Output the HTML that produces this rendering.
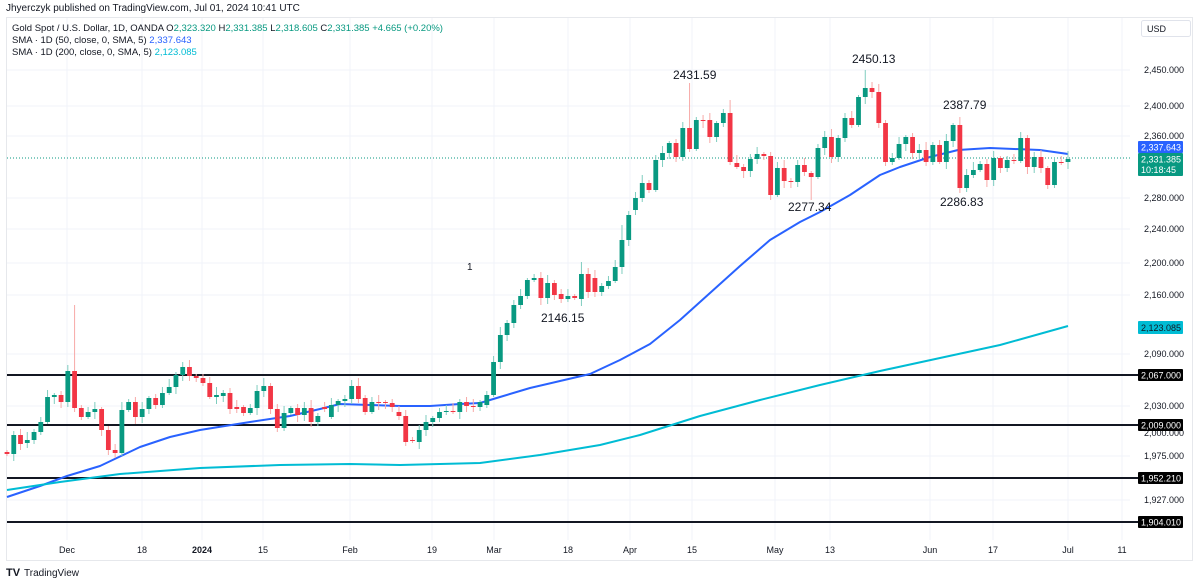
<!DOCTYPE html>
<html><head><meta charset="utf-8">
<style>
html,body{margin:0;padding:0;background:#fff;width:1200px;height:583px;overflow:hidden;font-family:"Liberation Sans",sans-serif;}
svg{display:block}
</style></head><body>
<svg id="c" width="1200" height="583" xmlns="http://www.w3.org/2000/svg" font-family="Liberation Sans, sans-serif">
<rect x="0" y="0" width="1200" height="583" fill="#fff"/>
<text x="6" y="11" font-size="10" fill="#131722">Jhyerczyk published on TradingView.com, Jul 01, 2024 10:41 UTC</text>
<rect x="6.5" y="17.5" width="1186" height="543" fill="none" stroke="#e6e8ec"/>
<g id="grid"></g>
<g id="hl"></g>
<line x1="7" y1="158" x2="1130" y2="158" stroke="#089981" stroke-dasharray="1,2" stroke-width="1"/>
<g id="ma"></g>
<g id="candles"></g>
<g font-size="12" fill="#131722">
<text x="673" y="79">2431.59</text>
<text x="852" y="63">2450.13</text>
<text x="943" y="109">2387.79</text>
<text x="788" y="211">2277.34</text>
<text x="940" y="206">2286.83</text>
<text x="541" y="322">2146.15</text>
<text x="467" y="270" font-size="10">1</text>
</g>
<g font-size="9.5" fill="#131722">
<text x="12" y="31">Gold Spot / U.S. Dollar, 1D, OANDA  O<tspan fill="#089981">2,323.320</tspan>  H<tspan fill="#089981">2,331.385</tspan>  L<tspan fill="#089981">2,318.605</tspan>  C<tspan fill="#089981">2,331.385</tspan>  <tspan fill="#089981">+4.665 (+0.20%)</tspan></text>
<text x="12" y="43">SMA · 1D (50, close, 0, SMA, 5)  <tspan fill="#2962ff">2,337.643</tspan></text>
<text x="12" y="55">SMA · 1D (200, close, 0, SMA, 5)  <tspan fill="#00bcd4">2,123.085</tspan></text>
</g>
<rect x="1141.5" y="20.5" width="49" height="16" rx="2" fill="#fff" stroke="#e0e3eb"/>
<text x="1147" y="32" font-size="9" fill="#131722">USD</text>
<g id="axis" font-size="9" fill="#131722"></g>
<g font-size="9" fill="#131722" text-anchor="middle">
<text x="67" y="553">Dec</text><text x="142" y="553">18</text><text x="202" y="553" font-weight="bold">2024</text><text x="263" y="553">15</text>
<text x="350" y="553">Feb</text><text x="432" y="553">19</text><text x="494" y="553">Mar</text><text x="568" y="553">18</text>
<text x="630" y="553">Apr</text><text x="692" y="553">15</text><text x="775" y="553">May</text><text x="830" y="553">13</text>
<text x="930" y="553">Jun</text><text x="993" y="553">17</text><text x="1068" y="553">Jul</text><text x="1122" y="553">11</text>
</g>
<text x="6" y="576" font-size="11" font-weight="bold" fill="#131722">TV</text>
<text x="24" y="576" font-size="10" fill="#131722">TradingView</text>
</svg>
<script>
(function(){
var NS="http://www.w3.org/2000/svg";
function el(p,t,a,txt){var e=document.createElementNS(NS,t);for(var k in a)e.setAttribute(k,a[k]);if(txt!=null)e.textContent=txt;document.getElementById(p).appendChild(e);return e;}
[67,142,202,263,350,432,494,568,630,692,775,830,930,993,1068,1122].forEach(function(x){el('grid','line',{x1:x,y1:18,x2:x,y2:540,stroke:'#f0f3fa'});});
var ticks=[[70,'2,450.000'],[106,'2,400.000'],[136,'2,360.000'],[198,'2,280.000'],[229,'2,240.000'],[263,'2,200.000'],[295,'2,160.000'],[354,'2,090.000'],[406,'2,030.000'],[456,'1,975.000'],[500,'1,927.000']];
ticks.forEach(function(t){el('grid','line',{x1:7,y1:t[0],x2:1130,y2:t[0],stroke:'#f0f3fa'});el('axis','text',{x:1144,y:t[0]+3},t[1]);});
el('axis','text',{x:1144,y:436},'2,000.000');
[[375,'2,067.000'],[425,'2,009.000'],[478,'1,952.210'],[522,'1,904.010']].forEach(function(t){
el('hl','line',{x1:7,y1:t[0],x2:1138,y2:t[0],stroke:'#131722','stroke-width':2});
el('axis','rect',{x:1138,y:t[0]-6,width:45,height:12,fill:'#000',rx:1});
el('axis','text',{x:1141,y:t[0]+3.5,fill:'#fff'},t[1]);});
el('axis','rect',{x:1138,y:321,width:45,height:13,fill:'#00bcd4',rx:1});
el('axis','text',{x:1141,y:331,fill:'#131722'},'2,123.085');
el('axis','rect',{x:1138,y:141,width:45,height:12,fill:'#2962ff',rx:1});
el('axis','text',{x:1141,y:150.5,fill:'#fff'},'2,337.643');
el('axis','rect',{x:1138,y:153,width:45,height:23,fill:'#089981',rx:1});
el('axis','text',{x:1141,y:162.5,fill:'#fff'},'2,331.385');
el('axis','text',{x:1141,y:173,fill:'#fff'},'10:18:45');
function path(pts,col){var d='M'+pts.map(function(p){return p[0]+','+p[1];}).join(' L');el('ma','path',{d:d,fill:'none',stroke:col,'stroke-width':2,'stroke-linejoin':'round'});}
path([[7,497],[40,486],[67,476],[100,466],[140,447],[170,437],[200,430],[250,422],[290,416],[320,409],[340,404],[370,405],[400,406],[430,406],[460,404],[480,403],[500,397],[530,388],[560,381],[590,374],[620,360],[650,344],[680,320],[710,293],[740,266],[770,240],[800,222],[820,212],[850,195],[880,175],[900,167],[930,157],[958,150],[990,148],[1040,150],[1068,154]],'#2962ff');
path([[7,490],[60,482],[120,474],[200,468],[280,465],[350,464],[400,465],[480,463],[540,455],[600,445],[640,435],[700,416],[760,400],[820,385],[880,371],[940,358],[1000,345],[1068,326]],'#00bcd4');
var C=[[452,454],[454,435],[435,444],[443,440],[440,432],[432,422],[422,397],[397,395],[395,402],[402,371],
[371,408],[408,417],[417,412],[412,409],[409,430],[430,450],[450,453],[453,410],[410,402],[402,417],
[417,409],[409,398],[398,405],[405,393],[393,387],[387,375],[375,367],[367,376],[376,378],[378,383],
[383,397],[397,395],[396,393],[393,409],[407,409],[407,413],[413,408],[408,391],[391,386],[386,409],
[409,428],[428,413],[413,408],[408,415],[415,408],[408,422],[422,416],[407,409],[417,405],[405,401],
[401,399],[399,386],[386,399],[398,412],[412,402],[402,403],[402,403],[403,407],[412,416],[416,442],
[440,441],[442,430],[430,422],[422,418],[418,412],[412,411],[411,412],[412,402],[402,406],[406,407],
[407,402],[405,395],[395,362],[362,335],[335,323],[323,305],[305,296],[296,280],[280,278],[278,298],
[298,283],[283,295],[294,299],[299,296],[296,298],[299,274],[274,292],[278,292],[292,286],[286,281],
[281,267],[267,240],[240,215],[210,198],[198,183],[183,190],[190,160],[160,153],[153,143],[143,157],
[157,128],[128,149],[149,120],[120,121],[120,137],[137,123],[123,113],[113,162],[163,167],[167,171],
[171,159],[159,154],[154,156],[156,195],[195,168],[168,181],[181,182],[182,165],[165,172],[173,177],
[177,148],[148,137],[137,157],[157,138],[138,118],[118,125],[125,97],[97,88],[88,92],[92,123],
[123,162],[162,158],[158,144],[144,137],[137,153],[153,150],[150,162],[162,145],[145,162],[162,141],
[141,125],[125,188],[188,175],[175,170],[170,164],[164,180],[180,158],[158,168],[168,160],[160,161],
[161,138],[138,167],[167,157],[157,168],[168,185],[185,162],[162,163],[162,159]];
var hi={10:305,101:83,127:70,141:117,107:100,150:132,59:410,85:262,91:225};
var lo={113:200,141:193,81:300,16:458,59:446,119:200};
var n=C.length,step=(1068-7)/(n-1);
for(var i=0;i<n;i++){
 var o=C[i][0],c=C[i][1],x=7+i*step,g=c<=o,col=g?'#089981':'#f23645',wc=g?'#7fcdbf':'#f7a9a7';
 var tp=Math.min(o,c),bt=Math.max(o,c);
 var r1=((i*37)%7)+2,r2=((i*53)%6)+2;
 var h=(i in hi)?hi[i]:tp-r1,l=(i in lo)?lo[i]:bt+r2;
 el('candles','line',{x1:x,y1:h,x2:x,y2:l,stroke:wc,'stroke-width':1});
 el('candles','rect',{x:x-2.4,y:tp,width:4.8,height:Math.max(1,bt-tp),fill:col});
}
})();
</script>
</body></html>
